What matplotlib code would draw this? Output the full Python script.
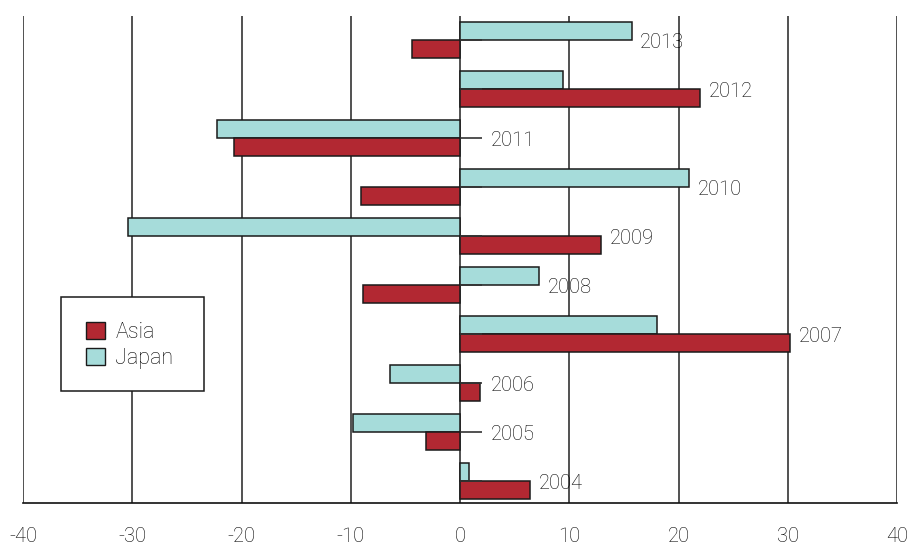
"""
Asia vs Japan yearly change, horizontal paired bars.
"""
import matplotlib
matplotlib.use("Agg")
import matplotlib.pyplot as plt
from matplotlib.patches import Patch, Rectangle

plt.rcParams["font.family"] = ["Roboto", "DejaVu Sans"]
plt.rcParams["font.weight"] = "light"

years = [2004, 2005, 2006, 2007, 2008, 2009, 2010, 2011, 2012, 2013]
asia = [6.4, -3.1, 1.8, 30.2, -8.9, 12.9, -9.1, -20.7, 22.0, -4.4]
japan = [0.8, -9.8, -6.4, 18.0, 7.2, -30.4, 21.0, -22.2, 9.4, 15.7]
x_ticks = [-40, -30, -20, -10, 0, 10, 20, 30, 40]

ASIA_COLOR = "#b22832"
JAPAN_COLOR = "#a6dcda"
TEXT_COLOR = "#000000"

fig = plt.figure(figsize=(9.07, 5.44), dpi=100)
ax = fig.add_axes([23 / 907, 41 / 544, 874 / 907, 487.5 / 544])

bar_h = 0.36
pos = list(range(len(years)))
ax.barh(pos, japan, height=bar_h, align="edge", color=JAPAN_COLOR,
        edgecolor="#1a1a1a", linewidth=1.1, zorder=3)
ax.barh(pos, asia, height=-bar_h, align="edge", color=ASIA_COLOR,
        edgecolor="#1a1a1a", linewidth=1.1, zorder=3)

# leader lines and year labels
for i, yr in enumerate(years):
    ax.plot([0, 2], [i, i], color="#333333", lw=1.2, zorder=4,
            solid_capstyle="butt")
    right = max(japan[i], asia[i], 2)
    ax.text(right + 0.8, i - 0.06, str(yr), ha="left", va="center",
            fontsize=14.5, color=TEXT_COLOR, fontweight="light")

ax.set_xlim(-40, 40)
ax.set_ylim(-0.45, 9.5)
ax.set_xticks(x_ticks)
ax.set_xticklabels([str(t) for t in x_ticks], fontsize=14.5, color=TEXT_COLOR)
ax.set_yticks([])
ax.tick_params(axis="x", length=0, pad=17)
ax.grid(axis="x", color="#222222", linewidth=1.1, zorder=0)
ax.set_axisbelow(True)
for side in ["left", "right", "top"]:
    ax.spines[side].set_visible(False)
ax.spines["bottom"].set_color("#111111")
ax.spines["bottom"].set_linewidth(1.2)

# legend box
x0 = (61 - 23) / 874
y0 = (503 - 391) / 487.5
w = 143 / 874
h = 94 / 487.5
ax.add_patch(Rectangle((x0, y0), w, h, transform=ax.transAxes,
                       facecolor="white", edgecolor="#1a1a1a",
                       linewidth=1.1, zorder=5))
handles = [Patch(facecolor=ASIA_COLOR, edgecolor="#1a1a1a", label="Asia"),
           Patch(facecolor=JAPAN_COLOR, edgecolor="#1a1a1a", label="Japan")]
leg = ax.legend(handles=handles, loc="center", frameon=False, fontsize=15.5,
                bbox_to_anchor=(x0 - 0.003, y0 - 0.003, w, h),
                handlelength=0.85, handleheight=0.85, handletextpad=0.5,
                labelspacing=0.2, labelcolor=TEXT_COLOR)
leg.set_zorder(6)

fig.savefig("out.png", dpi=100)
